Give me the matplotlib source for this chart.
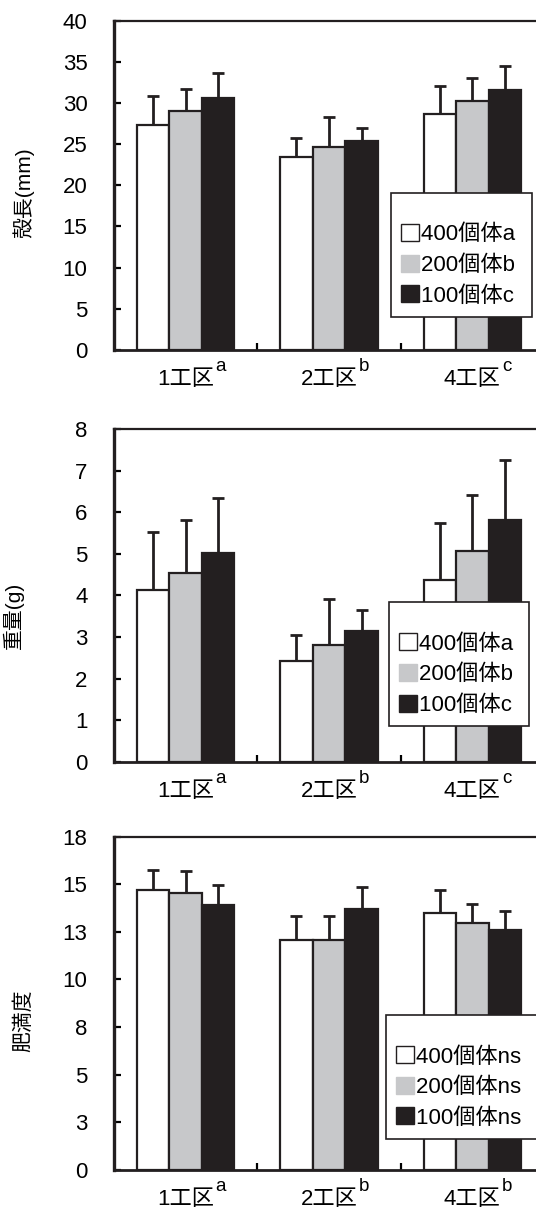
import math
import matplotlib
matplotlib.use('Agg')
import matplotlib.pyplot as plt
import numpy as np
from matplotlib.patches import Patch
from matplotlib.ticker import MultipleLocator, FuncFormatter

plt.rcParams['font.family'] = ['Liberation Sans', 'Noto Sans CJK JP', 'DejaVu Sans']

# data
areas = ['1工区', '2工区', '4工区']
groups = ['400個体', '200個体', '100個体']
colors = ['#ffffff', '#c7c8ca', '#231f20']

# 殻長 (mm)
length_mean = [[27.3, 23.4, 28.7], [29.0, 24.7, 30.3], [30.6, 25.4, 31.6]]
length_sd = [[3.6, 2.4, 3.4], [2.7, 3.6, 2.7], [3.0, 1.6, 2.9]]
length_area_sig = ['a', 'b', 'c']
length_group_sig = ['a', 'b', 'c']

# 重量 (g)
weight_mean = [[4.13, 2.43, 4.38], [4.55, 2.80, 5.06], [5.03, 3.15, 5.81]]
weight_sd = [[1.40, 0.61, 1.36], [1.26, 1.12, 1.36], [1.31, 0.51, 1.45]]
weight_area_sig = ['a', 'b', 'c']
weight_group_sig = ['a', 'b', 'c']

# 肥満度
cond_mean = [[14.70, 12.06, 13.48], [14.56, 12.06, 12.99], [13.90, 13.70, 12.58]]
cond_sd = [[1.07, 1.29, 1.20], [1.12, 1.29, 0.96], [1.05, 1.16, 1.00]]
cond_area_sig = ['a', 'b', 'b']
cond_group_sig = ['ns', 'ns', 'ns']

EDGE = '#231f20'
FS = 16


def draw_panel(ax, means, sds, area_sig, group_sig, ymax, step, legend_anchor):
    x = np.arange(len(areas))
    w = 0.227
    for i in range(len(groups)):
        xi = x + (i - 1) * w
        ax.bar(xi, means[i], w, color=colors[i], edgecolor=EDGE, linewidth=1.6, zorder=2)
        ax.errorbar(xi, means[i], yerr=[np.zeros(len(areas)), sds[i]], fmt='none',
                    ecolor=EDGE, elinewidth=2, capsize=4, capthick=2, zorder=1)
    ax.set_xlim(-0.5, 2.5)
    ax.set_ylim(0, ymax)
    ax.yaxis.set_major_locator(MultipleLocator(step))
    ax.yaxis.set_major_formatter(FuncFormatter(lambda v, p: str(int(math.floor(v + 0.5)))))
    ax.tick_params(axis='y', direction='in', length=5, width=1.6, pad=19, labelsize=FS)
    ax.set_xticks([0.5, 1.5])
    ax.tick_params(axis='x', direction='in', length=5, width=1.6, labelbottom=False)
    ax.spines['left'].set_linewidth(2.4)
    ax.spines['bottom'].set_linewidth(2.0)
    ax.spines['top'].set_linewidth(1.6)
    for s in ax.spines.values():
        s.set_color(EDGE)
    for i, name in enumerate(areas):
        ax.annotate(name, xy=(i, 0), xycoords=('data', 'axes fraction'),
                    xytext=(0, -21.5), textcoords='offset points',
                    ha='center', va='center', fontsize=FS, annotation_clip=False)
        ax.annotate(area_sig[i], xy=(i, 0), xycoords=('data', 'axes fraction'),
                    xytext=(25, -12), textcoords='offset points',
                    ha='center', va='center', fontsize=13.5, annotation_clip=False)
    # white square outlined, the others plain
    handles = [Patch(facecolor=colors[i], edgecolor=EDGE if i == 0 else colors[i], linewidth=1.0)
               for i in range(len(groups))]
    labels = [groups[i] + group_sig[i] + ' ' for i in range(len(groups))]
    leg = ax.legend(handles, labels, loc='upper left', bbox_to_anchor=legend_anchor,
                    fontsize=FS, frameon=True, fancybox=False, framealpha=1,
                    edgecolor=EDGE, handlelength=0.8, handleheight=0.8,
                    handletextpad=0.1, labelspacing=0.42, borderpad=0.45,
                    borderaxespad=0, title=' ', title_fontsize=9)
    leg.get_frame().set_linewidth(1.2)
    leg.set_zorder(5)


fig = plt.figure(figsize=(5.36, 12.08), dpi=100)
ax1 = fig.add_axes([0.2127, 0.7103, 0.8022, 0.2726])
ax2 = fig.add_axes([0.2127, 0.3695, 0.8022, 0.2752])
ax3 = fig.add_axes([0.2127, 0.0315, 0.8022, 0.2759])

draw_panel(ax1, length_mean, length_sd, length_area_sig, length_group_sig, 40, 5, (0.645, 0.477))
draw_panel(ax2, weight_mean, weight_sd, weight_area_sig, weight_group_sig, 8, 1, (0.64, 0.48))
draw_panel(ax3, cond_mean, cond_sd, cond_area_sig, cond_group_sig, 17.5, 2.5, (0.633, 0.465))

fig.text(23 / 536, 1 - 193 / 1208, '殻長(mm)', rotation=90, ha='center', va='center', fontsize=15)
fig.text(13 / 536, 1 - 615 / 1208, '重量(g)', rotation=90, ha='center', va='center', fontsize=15)
fig.text(24 / 536, 1 - 1021 / 1208, '肥満度', rotation=90, ha='center', va='center', fontsize=15)

fig.savefig('out.png', dpi=100)
